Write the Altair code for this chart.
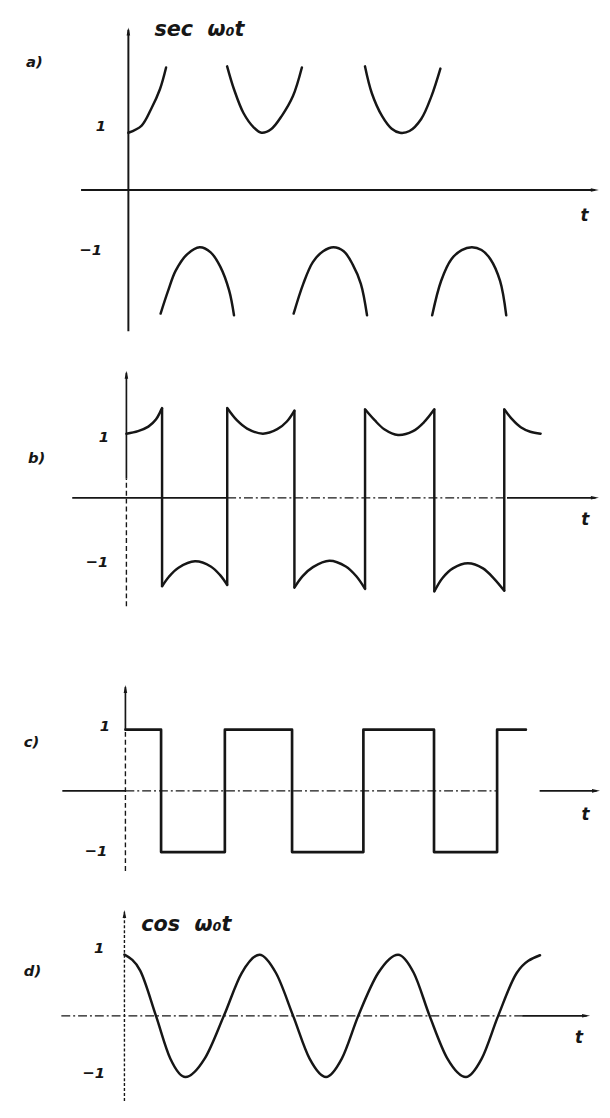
import altair as alt
import pandas as pd

# ---------------------------------------------------------------- data
# t is measured in half-periods (w0*t / pi); values read off the figure
# a) sec w0 t : three upward branches, then three downward branches
A_BRANCH_T = [
    [0.00, 0.19, 0.33, 0.46, 0.55],
    [1.44, 1.54, 1.68, 1.83, 1.94, 2.08, 2.24, 2.40, 2.53],
    [3.45, 3.55, 3.70, 3.84, 3.96, 4.10, 4.27, 4.42, 4.55],
    [0.47, 0.58, 0.69, 0.86, 1.04, 1.20, 1.34, 1.47, 1.54],
    [2.41, 2.55, 2.69, 2.84, 2.99, 3.14, 3.27, 3.39, 3.48],
    [4.43, 4.56, 4.71, 4.86, 5.01, 5.15, 5.28, 5.42, 5.51],
]
A_BRANCH_V = [
    [1.00, 1.12, 1.41, 1.76, 2.14],
    [2.16, 1.76, 1.34, 1.09, 1.00, 1.06, 1.30, 1.64, 2.14],
    [2.16, 1.69, 1.29, 1.07, 1.00, 1.03, 1.24, 1.64, 2.12],
    [-2.16, -1.76, -1.41, -1.12, -1.00, -1.09, -1.34, -1.76, -2.19],
    [-2.16, -1.64, -1.26, -1.07, -1.00, -1.07, -1.30, -1.64, -2.19],
    [-2.19, -1.59, -1.21, -1.05, -1.00, -1.05, -1.21, -1.59, -2.19],
]

# b) limited wave: smooth pieces between the jumps
B_SEG_T = [
    [0.00, 0.17, 0.32, 0.43, 0.52],
    [0.52, 0.62, 0.76, 1.00, 1.23, 1.37, 1.47],
    [1.47, 1.61, 1.76, 1.99, 2.20, 2.34, 2.45],
    [2.45, 2.57, 2.72, 2.96, 3.20, 3.35, 3.48],
    [3.48, 3.62, 3.76, 3.96, 4.18, 4.34, 4.49],
    [4.49, 4.61, 4.76, 4.98, 5.20, 5.36, 5.51],
    [5.51, 5.62, 5.75, 5.89, 6.04],
]
B_SEG_V = [
    [1.00, 1.04, 1.11, 1.22, 1.40],
    [-1.38, -1.23, -1.09, -0.99, -1.07, -1.21, -1.36],
    [1.40, 1.21, 1.08, 1.00, 1.07, 1.19, 1.36],
    [-1.40, -1.22, -1.08, -0.98, -1.07, -1.22, -1.42],
    [1.38, 1.21, 1.07, 0.98, 1.04, 1.18, 1.38],
    [-1.46, -1.25, -1.10, -1.02, -1.10, -1.26, -1.45],
    [1.38, 1.23, 1.10, 1.03, 1.00],
]

# c) square wave: switching instants and the level after each
C_EDGE_T = [0.00, 0.52, 1.45, 2.43, 3.47, 4.50, 5.42, 5.84]
C_LEVEL = [1, -1, 1, -1, 1, -1, 1, 1]

# d) cos w0 t
D_T = [0.00, 0.23, 0.46, 0.67, 0.89, 1.17, 1.45, 1.71, 1.97, 2.21, 2.46, 2.70,
       2.94, 3.17, 3.41, 3.70, 3.99, 4.22, 4.45, 4.71, 4.98, 5.21, 5.45, 5.72, 6.06]
D_V = [1.00, 0.74, 0.00, -0.70, -1.00, -0.70, 0.00, 0.70, 1.00, 0.70, 0.00, -0.70,
       -1.00, -0.70, 0.00, 0.70, 1.00, 0.70, 0.00, -0.70, -1.00, -0.70, 0.00, 0.70, 0.99]

PANEL_LETTERS = ["a)", "b)", "c)", "d)"]
FUNC_LABELS = ["sec\u00a0\u00a0ω₀t", "cos\u00a0\u00a0ω₀t"]
TICK_LABELS = ["1", "−1"]
AXIS_LABEL = "t"

# ---------------------------------------------------------------- style / layout
INK = "#161616"
FONT = "DejaVu Sans"
W = 602
UP = "M0,0 L0.6,2.7 L-0.6,2.7 Z"
RIGHT = "M0,0 L-2.7,-0.6 L-2.7,0.6 Z"
DASHDOT = [9, 3, 2, 3]
DASH = [5, 3]
SMOOTH = "catmull-rom"
LBL = 15


def scales(x0_page, y0_page, top_page, h, ky, kx=69.5):
    x0 = x0_page - 8
    y0 = y0_page - top_page
    xs = alt.Scale(domain=[-x0 / kx, (W - x0) / kx], nice=False, zero=False)
    ys = alt.Scale(domain=[(y0 - h) / ky, y0 / ky], nice=False, zero=False)
    return xs, ys


def enc(X, Y):
    return dict(x=alt.X("t:Q", scale=X, axis=None), y=alt.Y("v:Q", scale=Y, axis=None))


def segs(rows, X, Y, width, dash=None):
    df = pd.DataFrame(rows, columns=["t", "v", "t2", "v2"])
    kw = dict(color=INK, strokeWidth=width)
    if dash:
        kw["strokeDash"] = dash
    return alt.Chart(df).mark_rule(**kw).encode(x2="t2:Q", y2="v2:Q", **enc(X, Y))


def arrow(t, v, shape, X, Y):
    df = pd.DataFrame({"t": [t], "v": [v]})
    return alt.Chart(df).mark_point(shape=shape, filled=True, size=36, color=INK,
                                    opacity=1, strokeWidth=0).encode(**enc(X, Y))


def curves(ts, vs, X, Y, width=2.5, interp=SMOOTH):
    rows = [(k, t, v) for k, (tt, vv) in enumerate(zip(ts, vs)) for t, v in zip(tt, vv)]
    df = pd.DataFrame(rows, columns=["seg", "t", "v"])
    return alt.Chart(df).mark_line(interpolate=interp, color=INK, strokeWidth=width,
                                   strokeCap="round", strokeJoin="round").encode(
        detail="seg:N", **enc(X, Y))


def texts(rows, X, Y, size, align="center"):
    df = pd.DataFrame(rows, columns=["t", "v", "s"])
    return alt.Chart(df).mark_text(font=FONT, fontStyle="italic", fontWeight="bold",
                                   fontSize=size, color=INK,
                                   align=align, baseline="middle").encode(
        text="s:N", **enc(X, Y))


# ---------------- panel a
HA = 332
XA, YA = scales(130, 185, 8, HA, 58)
pa = alt.layer(
    segs([(-0.69, 0, 6.80, 0)], XA, YA, 2.0),
    segs([(0, -2.47, 0, 2.80)], XA, YA, 2.0),
    arrow(6.86, 0, RIGHT, XA, YA),
    arrow(0, 2.84, UP, XA, YA),
    curves(A_BRANCH_T, A_BRANCH_V, XA, YA),
    texts([(-1.37, 2.24, PANEL_LETTERS[0])], XA, YA, LBL),
    texts([(-0.40, 1.12, TICK_LABELS[0]), (-0.55, -1.05, TICK_LABELS[1])], XA, YA, LBL),
    texts([(6.65, -0.45, AXIS_LABEL)], XA, YA, 17),
    texts([(0.38, 2.80, FUNC_LABELS[0])], XA, YA, 21, "left"),
).properties(width=W, height=HA)

# ---------------- panel b
HB = 320
XB, YB = scales(128, 497, 340, HB, 65)
jumps = [(B_SEG_T[i][-1], B_SEG_V[i][-1], B_SEG_T[i + 1][0], B_SEG_V[i + 1][0])
         for i in range(len(B_SEG_T) - 1)]
pb = alt.layer(
    segs([(-0.79, 0, 1.47, 0), (5.55, 0, 6.84, 0)], XB, YB, 1.7),
    segs([(1.47, 0, 5.55, 0)], XB, YB, 1.4, DASHDOT),
    segs([(0, 0.3, 0, 1.95)], XB, YB, 1.7),
    segs([(0, -1.69, 0, 0.3)], XB, YB, 1.4, DASH),
    arrow(6.89, 0, RIGHT, XB, YB),
    arrow(0, 1.98, UP, XB, YB),
    curves(B_SEG_T, B_SEG_V, XB, YB),
    segs(jumps, XB, YB, 2.5),
    texts([(-1.31, 0.62, PANEL_LETTERS[1])], XB, YB, LBL),
    texts([(-0.33, 0.95, TICK_LABELS[0]), (-0.43, -1.0, TICK_LABELS[1])], XB, YB, LBL),
    texts([(6.69, -0.35, AXIS_LABEL)], XB, YB, 17),
).properties(width=W, height=HB)

# ---------------- panel c
HC = 240
XC, YC = scales(127, 794, 660, HC, 62)
pc = alt.layer(
    segs([(-0.92, 0, 0, 0), (6.04, 0, 6.87, 0)], XC, YC, 1.7),
    segs([(0, 0, 5.42, 0)], XC, YC, 1.4, DASHDOT),
    segs([(0, 1.0, 0, 1.70)], XC, YC, 1.7),
    segs([(0, -1.31, 0, 1.0)], XC, YC, 1.4, DASH),
    arrow(6.92, 0, RIGHT, XC, YC),
    arrow(0, 1.73, UP, XC, YC),
    curves([C_EDGE_T], [C_LEVEL], XC, YC, 2.7, "step-after"),
    texts([(-1.37, 0.79, PANEL_LETTERS[2])], XC, YC, LBL),
    texts([(-0.30, 1.06, TICK_LABELS[0]), (-0.43, -0.98, TICK_LABELS[1])], XC, YC, LBL),
    texts([(6.71, -0.39, AXIS_LABEL)], XC, YC, 17),
).properties(width=W, height=HC)

# ---------------- panel d
HD = 208
XD, YD = scales(126, 1022, 900, HD, 62)
pd_ = alt.layer(
    segs([(-0.92, 0, 5.80, 0)], XD, YD, 1.4, DASHDOT),
    segs([(5.80, 0, 6.74, 0)], XD, YD, 1.7),
    segs([(0, -1.39, 0, 1.70)], XD, YD, 1.4, [3, 2]),
    arrow(6.79, 0, RIGHT, XD, YD),
    arrow(0, 1.73, UP, XD, YD),
    curves([D_T], [D_V], XD, YD, 2.5, "monotone"),
    texts([(-1.34, 0.73, PANEL_LETTERS[3])], XD, YD, LBL),
    texts([(-0.37, 1.11, TICK_LABELS[0]), (-0.45, -0.94, TICK_LABELS[1])], XD, YD, LBL),
    texts([(6.63, -0.37, AXIS_LABEL)], XD, YD, 17),
    texts([(0.245, 1.48, FUNC_LABELS[1])], XD, YD, 21, "left"),
).properties(width=W, height=HD)

chart = alt.VConcatChart(
    vconcat=[pa, pb, pc, pd_], spacing=0, bounds="flush", padding=0, background="white"
).configure_view(stroke=None)

chart.save("out.html", embed_options={"renderer": "svg", "actions": False})
